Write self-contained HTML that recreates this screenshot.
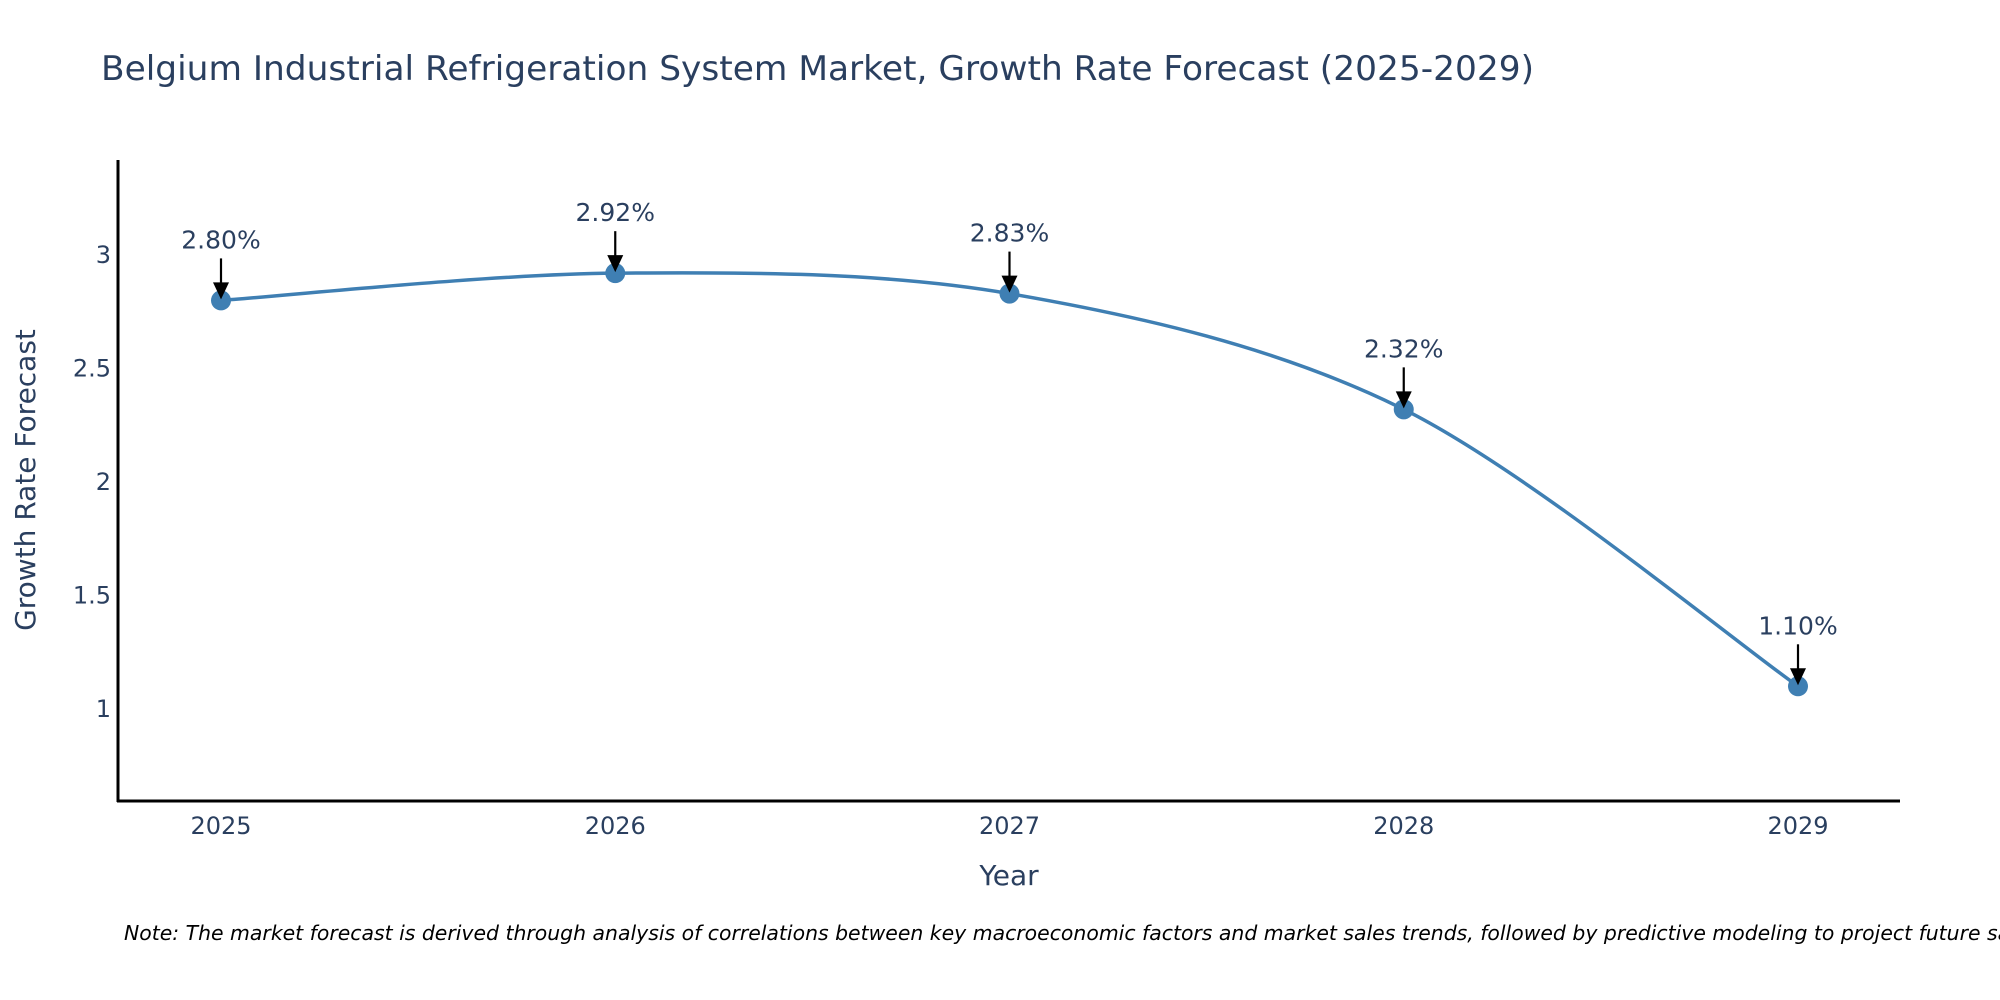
<!DOCTYPE html>
<html><head><meta charset="utf-8"><style>
html,body{margin:0;padding:0;background:#fff;}
svg{display:block;font-family:"DejaVu Sans","Liberation Sans",sans-serif;}
</style></head><body>
<svg id="chart" width="2000" height="1000" viewBox="0 0 2000 1000">
<text x="101" y="80" font-size="34" fill="#2a3f5f" textLength="1433" lengthAdjust="spacingAndGlyphs">Belgium Industrial Refrigeration System Market, Growth Rate Forecast (2025-2029)</text>
<g id="yticks"></g>
<g id="xticks"></g>
<path id="line" fill="none" stroke="#3f7fb3" stroke-width="3.5"></path>
<g id="points"></g>
<g id="annots"></g>
<line x1="118" y1="160" x2="118" y2="802" stroke="#000" stroke-width="3"/>
<line x1="117" y1="801" x2="1900" y2="801" stroke="#000" stroke-width="3"/>
<text x="1009" y="885" font-size="28" fill="#2a3f5f" text-anchor="middle">Year</text>
<text transform="translate(35,480) rotate(-90)" font-size="28" fill="#2a3f5f" text-anchor="middle">Growth Rate Forecast</text>
<text x="124" y="940" font-size="20" font-style="italic" fill="#000" textLength="1915" lengthAdjust="spacingAndGlyphs">Note: The market forecast is derived through analysis of correlations between key macroeconomic factors and market sales trends, followed by predictive modeling to project future sales</text>
</svg>
<script>
const years = [2025, 2026, 2027, 2028, 2029];
const values = [2.80, 2.92, 2.83, 2.32, 1.10];
const labels = ["2.80%", "2.92%", "2.83%", "2.32%", "1.10%"];
const yTicks = [1, 1.5, 2, 2.5, 3];
const yTickLabels = ["1", "1.5", "2", "2.5", "3"];

const NS = "http://www.w3.org/2000/svg";
function xS(v){ return 221 + (v - 2025) * (1798 - 221) / 4; }
function yS(v){ return 709 - (v - 1) * 227; }
function mk(tag, attrs, parent, txt){
  const e = document.createElementNS(NS, tag);
  for (const k in attrs) e.setAttribute(k, attrs[k]);
  if (txt !== undefined) e.textContent = txt;
  parent.appendChild(e);
  return e;
}
const yg = document.getElementById('yticks');
yTicks.forEach((t, i) => {
  const e = mk('text', {x: 111, y: yS(t) + 8, 'font-size': 24, fill: '#2a3f5f', 'text-anchor': 'end'}, yg, yTickLabels[i]);
  
  
});
const xg = document.getElementById('xticks');
years.forEach(y => {
  const e = mk('text', {x: xS(y), y: 834, 'font-size': 24, fill: '#2a3f5f', 'text-anchor': 'middle'}, xg, String(y));
  
  
});
const pts = years.map((y, i) => [xS(y), yS(values[i])]);
let d = 'M' + pts[0][0] + ',' + pts[0][1];
const s = 0.16;
for (let i = 0; i < pts.length - 1; i++) {
  const p0 = pts[Math.max(i - 1, 0)], p1 = pts[i], p2 = pts[i + 1], p3 = pts[Math.min(i + 2, pts.length - 1)];
  const c1 = [p1[0] + (p2[0] - p0[0]) * s, p1[1] + (p2[1] - p0[1]) * s];
  const c2 = [p2[0] - (p3[0] - p1[0]) * s, p2[1] - (p3[1] - p1[1]) * s];
  d += ' C' + c1[0] + ',' + c1[1] + ' ' + c2[0] + ',' + c2[1] + ' ' + p2[0] + ',' + p2[1];
}
document.getElementById('line').setAttribute('d', d);
const pg = document.getElementById('points');
const ag = document.getElementById('annots');
pts.forEach((p, i) => {
  const c = mk('circle', {cx: p[0], cy: p[1], r: 10, fill: '#3f7fb3'}, pg);
  
  
  const ln = mk('line', {x1: p[0], y1: p[1] - 42, x2: p[0], y2: p[1] - 15, stroke: '#000', 'stroke-width': 2.2}, ag);
  
  
  const ar = mk('polygon', {points: (p[0]-8)+','+(p[1]-18)+' '+(p[0]+8)+','+(p[1]-18)+' '+p[0]+','+(p[1]-1), fill: '#000'}, ag);
  
  
  const t = mk('text', {x: p[0], y: p[1] - 52, 'font-size': 25, fill: '#2a3f5f', 'text-anchor': 'middle'}, ag, labels[i]);
  
  
});
</script>
</body></html>
